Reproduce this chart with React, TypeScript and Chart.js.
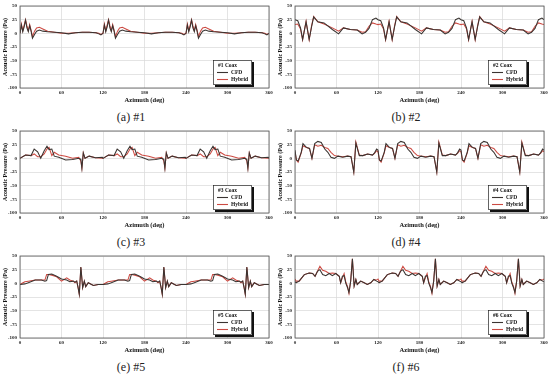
import React, { useEffect, useRef } from "react";
import { Chart, registerables } from "chart.js";

Chart.register(...registerables);

// One blade passage (0–120° azimuth); the 3-bladed rotor repeats it every 120°.
const AZ1 = [0, 2, 4, 6, 8, 10, 12, 14, 16, 18, 21, 24, 28, 33, 40, 50, 60, 70, 80, 90, 100, 110, 114, 117];
const CFD1 = [0, 15, 3, 12, 24, 10, 3, 14, 4, -9, -2, 4, 6, 4, 3, 2, 1, -1, 1, 2, 2, 1, -1, -3];
const HYB1 = [0, 17, 5, 15, 25, 14, 5, 16, 6, -6, 4, 10, 11, 8, 4, 2, 0, 0, 1, 2, 2, 1, 0, -2];

const AZ2 = [0, 4, 8, 11, 16, 20.5, 24, 27, 33, 42, 54, 63, 70, 80, 90, 97, 102, 107, 112, 117];
const CFD2 = [25, 23, 10, -11, 21, -11, 12, 30, 21, 19, 7, -1, 10, 7, 6, -1, 2, 9, 25, 28];
const HYB2 = [16, 17, 8, -12, 22, -12, 14, 31, 21, 17, 10, 4, 10, 7, 6, 2, 3, 13, 19, 17];

const AZ3 = [0, 8, 16, 20.5, 25.5, 30, 35, 39, 42, 46, 49.5, 56, 66, 76, 85, 88, 89.5, 91.5, 94, 100, 109, 119];
const CFD3 = [0, 6, 5, 17, 12, 0, 14, 22, 16, 17, 4, 2, -3, -2, 0, -2, -18, 10, 0, 4, 1, 2];
const HYB3 = [0, 6, 5, 8, 3, 3, 8, 17, 20, 5, 11, 6, 4, 0, 2, -5, -18, 10, 0, 4, 1, 0];

const AZ4 = [0, 2, 4.5, 9, 11.5, 16.5, 21, 24.5, 28.5, 33, 38, 43, 47.5, 52, 57, 62, 69, 76, 81, 85, 88, 93, 98, 105, 112, 115, 118];
const CFD4 = [15, -3, -5, 11, 27, 20, 18, 0, 27, 31, 29, 17, 11, 2, 0, 4, 2, 4, 3, -25, 28, 5, 5, 8, 6, 10, 17];
const HYB4 = [12, -3, -7, 10, 23, 20, 18, 0, 25, 22, 24, 20, 18, 11, 5, 4, 3, 4, 3, -25, 30, 6, 5, 8, 6, 9, 14];

const AZ5 = [0, 7, 12, 22, 31, 36, 38.5, 41, 46, 53, 60, 67.5, 72, 77, 79.5, 82, 84, 85.7, 88, 90.6, 93, 95, 98.7, 106, 113];
const CFD5 = [-2, -1, 1, 6, 6, 4, 5, 16, 17, 13, 8, 6, 3, 4, 2, 4, -8, -20, 30, -8, 4, -6, 1, -4, -2];
const HYB5 = [-2, 3, 4, 6, 6, 6, 16, 16, 15, 12, 4, 10, 6, 4, 1, 4, -8, -20, 30, -8, 4, -6, 1, -4, -2];

const AZ6 = [0, 1.5, 6, 13.5, 20.5, 25.5, 29, 32.5, 36, 40, 44.5, 49.5, 54, 59, 64, 66, 68.5, 71, 73.5, 76, 78, 80.5, 83, 85.5, 88, 90, 95, 100, 104.5, 109.5, 114, 118];
const CFD6 = [3, 1, 4, 16, 19, 18, 13, 22, 25, 16, 14, 18, 14, 18, 13, 1, 13, 14, 0, -8, -17, 4, 45, -5, 7, -2, 4, 1, -2, 1, 7, 4];
const HYB6 = [8, 4, 4, 16, 19, 18, 13, 22, 31, 24, 22, 18, 19, 18, 13, 1, 10, 18, 2, -6, -18, 4, 45, -5, 7, -2, 4, 1, -2, 1, 7, 6];

const X_TICKS = [0, 60, 120, 180, 240, 300, 360];
const Y_TICKS = [50, 25, 0, -25, -50, -75, -100];
const SERIES_NAMES = ["CFD", "Hybrid"];

const PANELS = [
  { letter: "a", num: "1", az: AZ1, cfd: CFD1, hyb: HYB1 },
  { letter: "b", num: "2", az: AZ2, cfd: CFD2, hyb: HYB2 },
  { letter: "c", num: "3", az: AZ3, cfd: CFD3, hyb: HYB3 },
  { letter: "d", num: "4", az: AZ4, cfd: CFD4, hyb: HYB4 },
  { letter: "e", num: "5", az: AZ5, cfd: CFD5, hyb: HYB5 },
  { letter: "f", num: "6", az: AZ6, cfd: CFD6, hyb: HYB6 },
];

const BLADES = 3;
function tile(az: number[], v: number[]) {
  const pts: { x: number; y: number }[] = [];
  const period = 360 / BLADES;
  for (let k = 0; k < BLADES; k++) {
    for (let i = 0; i < az.length; i++) pts.push({ x: az[i] + period * k, y: v[i] });
  }
  pts.push({ x: 360, y: v[0] });
  return pts;
}

const SERIF = "'Liberation Serif', 'DejaVu Serif', serif";
const CFD_COLOR = "#3a3431";
const HYB_COLOR = "#cc4a42";

function Panel({ p }: { p: any }) {
  const ref = useRef<HTMLCanvasElement | null>(null);
  useEffect(() => {
    if (!ref.current) return;
    const title = `#${p.num} Coax`;
    const framePlugin = {
      id: "frameLegend",
      afterDraw(chart: any) {
        const { ctx, chartArea: ca } = chart;
        ctx.save();
        ctx.strokeStyle = "#555";
        ctx.lineWidth = 0.8;
        ctx.strokeRect(ca.left, ca.top, ca.right - ca.left, ca.bottom - ca.top);
        // legend box
        const bw = 39, bh = 25;
        const bx = Math.round(ca.right - 17 - bw);
        const by = Math.round(ca.bottom - 3 - bh);
        ctx.fillStyle = "#111";
        ctx.fillRect(bx + 2, by + 2, bw, bh);
        ctx.fillStyle = "#fff";
        ctx.fillRect(bx, by, bw, bh);
        ctx.strokeStyle = "#222";
        ctx.lineWidth = 0.7;
        ctx.strokeRect(bx + 0.5, by + 0.5, bw - 1, bh - 1);
        ctx.fillStyle = "#111";
        ctx.font = `bold 5.5px ${SERIF}`;
        ctx.textBaseline = "middle";
        ctx.textAlign = "left";
        ctx.fillText(title, bx + 5, by + 5.5);
        const ds = chart.data.datasets;
        ds.forEach((d: any, i: number) => {
          const yy = by + 12.5 + i * 7;
          ctx.strokeStyle = d.borderColor;
          ctx.lineWidth = 1.1;
          ctx.beginPath();
          ctx.moveTo(bx + 4, yy);
          ctx.lineTo(bx + 15, yy);
          ctx.stroke();
          ctx.fillStyle = "#111";
          ctx.fillText(d.label, bx + 18, yy);
        });
        ctx.restore();
      },
    };
    const tickFont = { family: SERIF, size: 5, weight: "bold" as const };
    const chart = new Chart(ref.current, {
      type: "line",
      data: {
        datasets: [
          { label: SERIES_NAMES[0], data: tile(p.az, p.cfd), borderColor: CFD_COLOR, borderWidth: 1.05, pointRadius: 0, tension: 0 },
          { label: SERIES_NAMES[1], data: tile(p.az, p.hyb), borderColor: HYB_COLOR, borderWidth: 1.05, pointRadius: 0, tension: 0 },
        ],
      },
      options: {
        animation: false,
        responsive: false,
        devicePixelRatio: 1,
        layout: { padding: { top: 5, right: 6, left: 0, bottom: 0 } },
        plugins: { legend: { display: false }, tooltip: { enabled: false } },
        scales: {
          x: {
            type: "linear",
            min: 0,
            max: 360,
            afterBuildTicks: (s: any) => { s.ticks = X_TICKS.map((v) => ({ value: v })); },
            afterFit: (s: any) => { s.height = 18; },
            ticks: { font: tickFont, color: "#222", padding: 2, maxRotation: 0 },
            grid: { color: "#d9d9d9", lineWidth: 0.7, drawTicks: false },
            border: { display: false },
            title: { display: true, text: "Azimuth (deg)", font: { family: SERIF, size: 6.5, weight: "bold" }, color: "#111", padding: { top: 0, bottom: 2 } },
          },
          y: {
            type: "linear",
            min: -100,
            max: 50,
            afterBuildTicks: (s: any) => { s.ticks = Y_TICKS.map((v) => ({ value: v })); },
            afterFit: (s: any) => { s.width = 20; },
            ticks: { font: tickFont, color: "#222", padding: 3 },
            grid: { color: "#d9d9d9", lineWidth: 0.7, drawTicks: false },
            border: { display: false },
            title: { display: true, text: "Acoustic Pressure (Pa)", font: { family: SERIF, size: 6, weight: "bold" }, color: "#111", padding: { top: 1.5, bottom: 0 } },
          },
        },
      },
      plugins: [framePlugin],
    });
    return () => chart.destroy();
  }, [p]);
  return (
    <div style={{ width: 275, height: 125, position: "relative" }}>
      <canvas ref={ref} width={275} height={106} style={{ display: "block", width: 275, height: 106 }} />
      <div
        style={{
          position: "absolute",
          left: 0,
          top: 108,
          width: 262,
          textAlign: "center",
          fontFamily: SERIF,
          fontSize: 12,
          lineHeight: "18px",
          color: "#222",
        }}
      >
        ({p.letter}) #{p.num}
      </div>
    </div>
  );
}

export default function App() {
  return (
    <div
      style={{
        position: "absolute",
        left: 0,
        top: 0,
        width: 550,
        height: 375,
        background: "#fff",
        display: "grid",
        gridTemplateColumns: "275px 275px",
        gridTemplateRows: "125px 125px 125px",
      }}
    >
      {PANELS.map((p) => (
        <Panel key={p.letter} p={p} />
      ))}
    </div>
  );
}
